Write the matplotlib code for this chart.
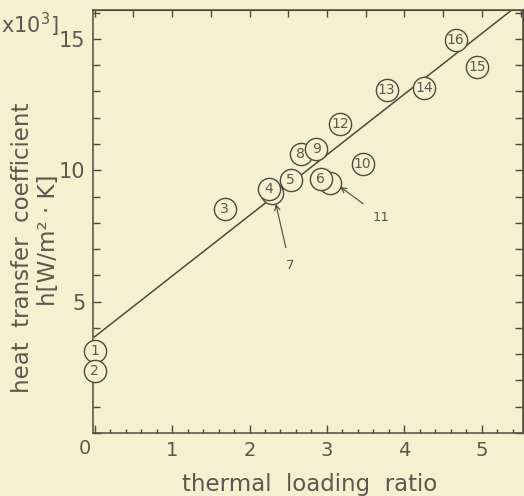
import matplotlib.pyplot as plt
from matplotlib.ticker import MultipleLocator, NullFormatter, FuncFormatter

# data
labels = ['1', '2', '3', '4', '5', '6', '7', '8', '9', '10', '11', '12', '13', '14', '15', '16']
ratio = [0.0, 0.0, 1.68, 2.25, 2.53, 2.92, 2.29, 2.66, 2.86, 3.46, 3.04, 3.17, 3.77, 4.25, 4.94, 4.66]
h_coef = [3.12, 2.37, 8.54, 9.29, 9.62, 9.65, 9.12, 10.61, 10.80, 10.25, 9.52, 11.75, 13.04, 13.14, 13.93, 14.97]
# draw order (later on top)
order = ['1', '2', '3', '7', '4', '5', '11', '6', '8', '9', '10', '12', '13', '14', '15', '16']
# points labelled by an arrow instead of inside the circle: (label pos, arrow tip)
arrow_pts = {'7': ((2.52, 6.39), (2.34, 8.72)),
             '11': ((3.70, 8.22), (3.17, 9.37))}

# fitted line (two ends)
line_x = [0.0, 5.45]
line_y = [3.66, 16.25]

paper = '#f3f1cf'
ink = '#4d4a40'
txt = '#5b5850'

fig = plt.figure(figsize=(5.24, 4.96), dpi=100, facecolor=paper)
ax = fig.add_axes([93/524, 63/496, 430/524, 423/496])
ax.set_facecolor(paper)

ax.plot(line_x, line_y, color=ink, lw=1.1, zorder=2)

z = 3
for lab in order:
    i = labels.index(lab)
    x, y = ratio[i], h_coef[i]
    ax.plot(x, y, 'o', ms=16, mfc=paper, mec=ink, mew=1.0, zorder=z, clip_on=False)
    if lab in arrow_pts:
        (tx, ty), tip = arrow_pts[lab]
        ax.annotate(lab, xy=tip, xytext=(tx, ty), ha='center', va='center', fontsize=9.5, color=txt,
                    arrowprops=dict(arrowstyle='->', color=ink, lw=0.8, shrinkA=6, shrinkB=0),
                    zorder=20)
    else:
        ax.text(x, y, lab, ha='center', va='center', fontsize=10, color=txt, zorder=z + 0.5)
    z += 1

ax.set_xlim(-0.02, 5.53)
ax.set_ylim(0, 16.1)

ax.xaxis.set_major_locator(MultipleLocator(1))
ax.xaxis.set_minor_locator(MultipleLocator(0.2))
ax.xaxis.set_major_formatter(FuncFormatter(lambda v, p: '' if abs(v) < 1e-9 else '%d' % round(v)))
ax.yaxis.set_major_locator(MultipleLocator(5))
ax.yaxis.set_minor_locator(MultipleLocator(1))
ax.yaxis.set_major_formatter(FuncFormatter(lambda v, p: '' if abs(v) < 1e-9 else '%d' % round(v)))
ax.tick_params(which='both', direction='in', top=False, right=False, color=ink, width=1.0)
ax.tick_params(which='major', length=5.5)
ax.tick_params(which='minor', length=3)
ax.tick_params(axis='y', which='minor', length=5)
ax.tick_params(axis='x', labelsize=14, pad=5.5, labelcolor=txt)
ax.tick_params(axis='y', labelsize=15, pad=5.5, labelcolor=txt)
for s in ax.spines.values():
    s.set_color(ink)
    s.set_linewidth(1.1)

top = ax.secondary_xaxis('top')
top.xaxis.set_major_locator(MultipleLocator(0.5))
top.xaxis.set_major_formatter(NullFormatter())
top.tick_params(direction='in', length=5, color=ink, width=1.0)
top.spines['top'].set_color(ink)
right = ax.secondary_yaxis('right')
right.yaxis.set_major_locator(MultipleLocator(1))
right.yaxis.set_major_formatter(NullFormatter())
right.tick_params(direction='in', length=5.5, color=ink, width=1.0)
right.spines['right'].set_color(ink)

# shared origin label, sits left of the corner
fig.text(85/524, 1 - 449/496, '0', ha='center', va='center', fontsize=14, color=txt)

fig.text(310/524, 12/496, 'thermal  loading  ratio', ha='center', va='center', fontsize=16.5, color=txt)
fig.text(23/524, 0.5, 'heat  transfer  coefficient', rotation=90, ha='center', va='center',
         fontsize=16.5, color=txt)
fig.text(48/524, 0.516, 'h[W/m² · K]', rotation=90, ha='center', va='center',
         fontsize=16.5, color=txt)
fig.text(1/524, 1 - 33/496, r'x10$^3$]', ha='left', va='baseline', fontsize=15, color=txt)

fig.savefig('out.png', dpi=100, facecolor=paper)
